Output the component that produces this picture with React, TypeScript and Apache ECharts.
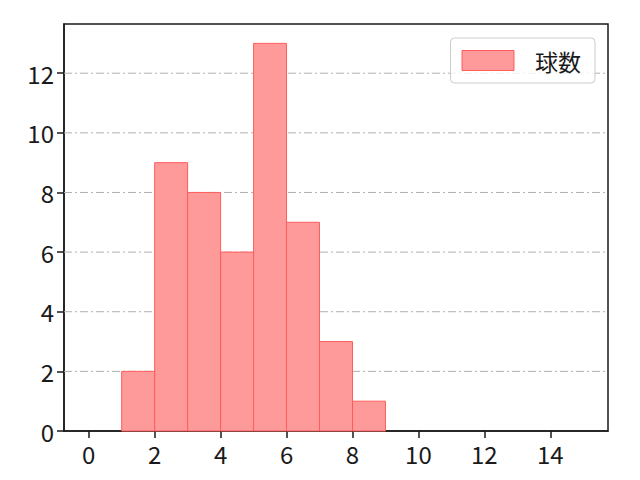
import React, { useEffect, useRef } from "react";
import * as echarts from "echarts";

// histogram bins: [left edge, right edge]
const binEdges = [1, 2, 3, 4, 5, 6, 7, 8, 9];
const counts = [2, 9, 8, 6, 13, 7, 3, 1];
const xTicks = [0, 2, 4, 6, 8, 10, 12, 14];
const yTicks = [0, 2, 4, 6, 8, 10, 12];
const seriesName = "球数";

const FONT = "'Noto Sans CJK JP', 'Noto Sans', sans-serif";
const FILL = "#ff9a9a";
const EDGE = "#ff5c5c";

const data = counts.map((c, i) => [binEdges[i], binEdges[i + 1], c]);

const App: React.FC = () => {
  const chartRef = useRef<HTMLDivElement>(null);

  useEffect(() => {
    if (!chartRef.current) return;
    const chart = echarts.init(chartRef.current, undefined, { renderer: "svg" });
    chart.setOption({
      animation: false,
      grid: {
        left: 64,
        right: 32,
        top: 24,
        bottom: 49,
        show: true,
        borderColor: "#1a1a1a",
        borderWidth: 1.5,
        backgroundColor: "transparent",
      },
      legend: {
        right: 45,
        top: 38,
        orient: "vertical",
        padding: [10, 14, 10, 11],
        borderColor: "#cccccc",
        borderWidth: 1,
        borderRadius: 4,
        backgroundColor: "rgba(255,255,255,0.8)",
        itemWidth: 52,
        itemHeight: 20,
        textStyle: {
          fontFamily: FONT,
          fontSize: 23,
          color: "#1a1a1a",
          padding: [0, 0, 0, 16],
          lineHeight: 25,
        },
        data: [
          {
            name: seriesName,
            icon: "rect",
            itemStyle: { color: FILL, borderColor: EDGE, borderWidth: 1 },
          },
        ],
      },
      xAxis: {
        type: "value",
        min: -0.75,
        max: 15.75,
        axisLine: { show: true, onZero: false, lineStyle: { color: "#1a1a1a", width: 1.5 } },
        axisTick: {
          show: true,
          length: 7,
          customValues: xTicks,
          lineStyle: { color: "#1a1a1a", width: 1.5 },
        },
        axisLabel: {
          customValues: xTicks,
          fontFamily: FONT,
          fontSize: 24,
          color: "#1a1a1a",
          margin: 10,
        },
        splitLine: { show: false },
      },
      yAxis: {
        type: "value",
        min: 0,
        max: 13.65,
        axisLine: { show: true, onZero: false, lineStyle: { color: "#1a1a1a", width: 1.5 } },
        axisTick: {
          show: true,
          length: 7,
          customValues: yTicks,
          lineStyle: { color: "#1a1a1a", width: 1.5 },
        },
        axisLabel: {
          customValues: yTicks,
          fontFamily: FONT,
          fontSize: 24,
          color: "#1a1a1a",
          margin: 10,
        },
        splitLine: { show: false },
      },
      series: [
        {
          // horizontal dash-dot grid lines
          type: "custom",
          silent: true,
          z: 1,
          data: yTicks.filter((v) => v > 0).map((v) => [v]),
          renderItem: (params: any, api: any) => {
            const y = api.coord([0, api.value(0)])[1];
            const cs = params.coordSys;
            return {
              type: "line",
              shape: { x1: cs.x, y1: y, x2: cs.x + cs.width, y2: y },
              style: { stroke: "#b0b0b0", lineWidth: 1, lineDash: [8, 3, 2, 3] },
            };
          },
        },
        {
          name: seriesName,
          type: "custom",
          z: 2,
          itemStyle: { color: FILL, borderColor: EDGE },
          data,
          renderItem: (params: any, api: any) => {
            const p0 = api.coord([api.value(0), 0]);
            const p1 = api.coord([api.value(1), api.value(2)]);
            return {
              type: "rect",
              shape: { x: p0[0], y: p1[1], width: p1[0] - p0[0], height: p0[1] - p1[1] },
              style: { fill: FILL, stroke: EDGE, lineWidth: 1 },
            };
          },
        },
      ],
    });
    return () => {
      chart.dispose();
    };
  }, []);

  return <div ref={chartRef} style={{ width: 640, height: 480, margin: -8 }} />;
};

export default App;
